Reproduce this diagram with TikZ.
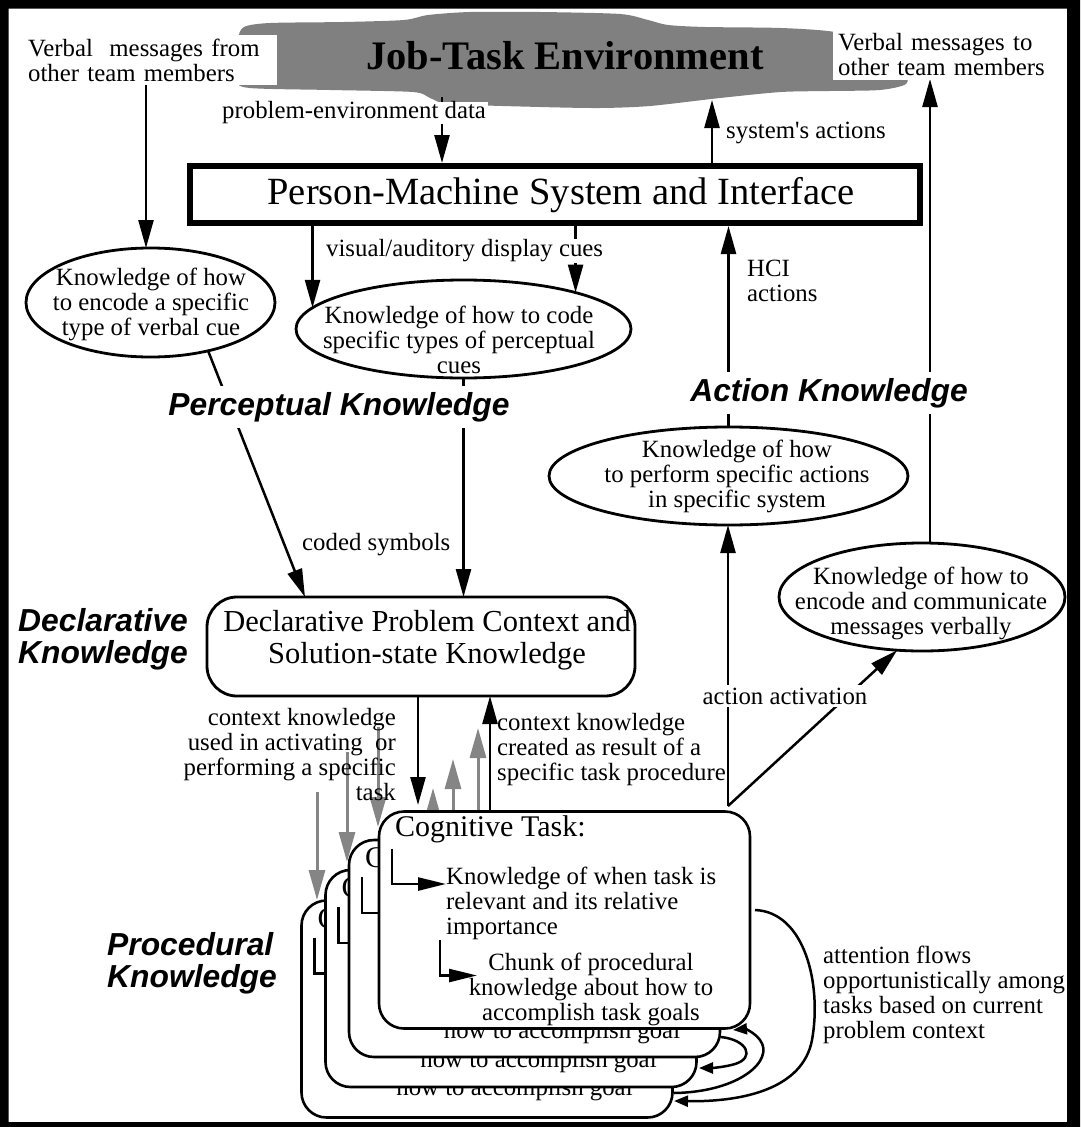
\documentclass[tikz,border=0pt]{standalone}
\usepackage{fontspec}
\setmainfont{Liberation Serif}
\setsansfont{Liberation Sans}
\usetikzlibrary{shapes.geometric,arrows.meta,backgrounds}
\definecolor{cloudgray}{HTML}{808080}
\definecolor{arrgray}{HTML}{858585}
\begin{document}
\begin{tikzpicture}[x=1pt,y=-1pt,
  base/.style={font=\fontsize{24.8}{25}\selectfont, inner sep=0pt},
  lbl/.style={base, fill=white},
  bigl/.style={font=\fontsize{31.8}{32}\selectfont\sffamily\bfseries\itshape, inner sep=0pt},
  cog/.style={font=\fontsize{30}{32}\selectfont, inner sep=0pt, anchor=west},
  kell/.style={ellipse, draw, line width=2.8pt, fill=white, inner sep=0pt, outer sep=0pt},
  card/.style={draw, line width=2.6pt, fill=white, rounded corners=25pt, minimum width=371pt, minimum height=217pt, inner sep=0pt, outer sep=0pt},
  arr/.style={line width=2.5pt, -{Triangle[length=28pt,width=15pt]}},
  garr/.style={color=arrgray, line width=3pt, -{Triangle[length=30pt,width=16pt]}},
  brk/.style={line width=2.5pt, -{Triangle[length=28pt,width=13pt]}},
  loopa/.style={line width=2.5pt, -{Triangle[length=14pt,width=11pt]}},
]
\useasboundingbox (0,0) rectangle (1080,1127);

% ---------- main nodes ----------
\node[kell, minimum width=249pt, minimum height=109pt] (e1) at (150.5,302.5) {};
\node[base, align=center] (e1t) at (151,304) {Knowledge of how\\to encode a specific\\type of verbal cue};
\node[kell, minimum width=335pt, minimum height=98pt] (e2) at (463.5,329) {};
\node[base, align=center] (e2t) at (459,340) {Knowledge of how to code\\specific types of perceptual\\cues};
\node[kell, minimum width=359pt, minimum height=98pt] (e3) at (728.5,476) {};
\node[base, align=center] (e3t) at (737,476) {Knowledge of how\\to perform specific actions\\in specific system};
\node[kell, minimum width=286pt, minimum height=108pt] (e4) at (922,597) {};
\node[base, align=center] (e4t) at (921,603) {Knowledge of how to\\encode and communicate\\messages verbally};

\node[draw, line width=6pt, fill=white, minimum width=730pt, minimum height=57pt, inner sep=0pt, outer sep=3pt] (pm) at (555,194.5) {};
\node[font=\fontsize{38.5}{40}\selectfont, inner sep=0pt] (pmt) at (561,195) {Person-Machine System and Interface};

\node[draw, line width=2.8pt, fill=white, rounded corners=30pt, minimum width=428pt, minimum height=99pt, inner sep=0pt, outer sep=0pt] (decl) at (421,646.5) {};
\node[font=\fontsize{30.5}{32}\selectfont, inner sep=0pt, align=center] (declt) at (427,640) {Declarative Problem Context and\\Solution-state Knowledge};

% ---------- cognitive task cards ----------
\node[card] (c4) at (487,1009) {};
\node[cog] (c4c) at ([shift={(16,18)}]c4.north west) {C};
\draw[brk] ([shift={(13,37)}]c4.north west) |- ([shift={(68,73)}]c4.north west);
\node[base] (c4g) at ([shift={(213,189)}]c4.north west) {how to accomplish goal};

\node[card] (c3) at (511,978.5) {};
\node[cog] (c3c) at ([shift={(16,18)}]c3.north west) {C};
\draw[brk] ([shift={(13,37)}]c3.north west) |- ([shift={(68,73)}]c3.north west);
\node[base] (c3g) at ([shift={(213,192)}]c3.north west) {how to accomplish goal};

\node[card] (c2) at (534.5,948.5) {};
\node[cog] (c2c) at ([shift={(16,18)}]c2.north west) {C};
\draw[brk] ([shift={(13,37)}]c2.north west) |- ([shift={(68,73)}]c2.north west);
\node[base] (c2g) at ([shift={(213,193)}]c2.north west) {how to accomplish goal};

\node[card] (c1) at (564.5,920) {};
\node[cog] (c1c) at ([shift={(16,18)}]c1.north west) {Cognitive Task:};
\node[base, align=left, anchor=west] (kw) at (446,903) {Knowledge of when task is\\relevant and its relative\\importance};
\draw[brk] ([shift={(13,37)}]c1.north west) |- (kw.west |- 0,884);
\node[base, align=center] (chunk) at (591,989) {Chunk of procedural\\knowledge about how to\\accomplish task goals};
\draw[brk] ([shift={(61,128)}]c1.north west) |- ([shift={(98,164)}]c1.north west);

% ---------- coordinates ----------
\coordinate (pedsrc) at (442,97);
\coordinate (sadst) at (712,100);
\coordinate (vfsrc) at (146,84);
\coordinate (vtdst) at (930,79);
\coordinate (x305) at (305,0);
\coordinate (bdx) at (418,805);
\coordinate (bux) at (490,0);
\coordinate (aa) at (728,806);
\coordinate (gAs) at (317,792);
\coordinate (gAe) at (317,900);
\coordinate (gBs) at (347,752);
\coordinate (gBe) at (347,862);
\coordinate (gCs) at (378,727);
\coordinate (gCe) at (378,827);
\coordinate (gDe) at (433,788);
\coordinate (gEe) at (453,759);
\coordinate (gFe) at (478,728);
\coordinate (lAs) at (755,910);
\coordinate (lAe) at (674,1101);
\coordinate (lBs) at (674,1093);
\coordinate (lBe) at (733,1030);
\coordinate (lCs) at (721,1037);
\coordinate (lCe) at (699,1068);

% ---------- background: cloud and grey arrows ----------
\begin{pgfonlayer}{background}
\fill[cloudgray] plot[smooth cycle, tension=0.45] coordinates {
 (238,40) (244,27) (270,23) (344,22) (404,20) (428,15) (470,12) (540,12)
 (620,14) (648,20) (668,25) (705,27) (781,28) (835,32) (880,45) (905,70)
 (906,84) (880,90) (830,91) (781,92) (720,98) (650,106) (600,108) (540,107)
 (450,104) (430,98) (413,92) (330,90) (250,88) (237,80)};
\draw[garr] (gAs) -- (gAe);
\draw[garr] (gBs) -- (gBe);
\draw[garr] (gCs) -- (gCe);
\draw[garr] (c2.north -| gDe) -- (gDe);
\draw[garr] (c3.north -| gEe) -- (gEe);
\draw[garr] (c4.north -| gFe) -- (gFe);
\end{pgfonlayer}

\node[font=\fontsize{40.5}{42}\selectfont\bfseries, inner sep=0pt] (env) at (565,56) {Job-Task Environment};

% ---------- connectors ----------
\draw[arr] (pedsrc) -- (pedsrc |- pm.north);
\draw[arr] (pm.north -| sadst) -- (sadst);
\draw[arr] (vfsrc) -- (vfsrc |- e1.north);
\draw[arr] (vtdst |- e4.north) -- (vtdst);
\draw[arr] (e2.172 |- pm.south) -- (e2.172);
\draw[arr] (e2.18 |- pm.south) -- (e2.18);
\draw[arr] (e3.north) -- (e3.north |- pm.south);
\draw[arr] (e1.320) -- (x305 |- decl.north);
\draw[arr] (e2.south) -- (e2.south |- decl.north);
\draw[arr] (decl.south -| bdx) -- (bdx);
\draw[arr] (c1.north -| bux) -- (bux |- decl.south);
\draw[arr] (aa) -- (aa |- e3.south);
\draw[arr] (aa) -- (e4.245);

% attention loops
\draw[loopa] (lAs) .. controls (805,912) and (822,985) .. (812,1040) .. controls (803,1088) and (745,1102) .. (lAe);
\draw[loopa] (lBs) .. controls (740,1092) and (775,1060) .. (760,1040) .. controls (754,1032) and (745,1029) .. (lBe);
\draw[loopa] (lCs) .. controls (748,1040) and (755,1058) .. (735,1064) .. controls (725,1067) and (712,1068) .. (lCe);

% ---------- labels ----------
\node[lbl, align=left, anchor=west, minimum height=50pt, text width=249pt] (vf) at (28,60) {Verbal~ messages from\\other team members};
\node[lbl, align=left, anchor=west, minimum height=50pt, inner xsep=5pt, text width=212pt] (vt) at (833,55) {Verbal messages to\\other team members};
\node[lbl, anchor=west, inner xsep=2pt] (ped) at (220,113) {problem-environment data};
\node[base, anchor=west] (sa) at (726,133) {system\textquotesingle s actions};
\node[lbl, anchor=west, inner sep=1pt] (vis) at (325,251) {visual/auditory display cues};
\node[base, anchor=west, align=left] (hci) at (747,281) {HCI\\actions};
\node[bigl, fill=white, inner xsep=4pt, inner ysep=6pt] (pk) at (339,407) {Perceptual Knowledge};
\node[bigl, fill=white, inner xsep=4pt, inner ysep=6pt] (ak) at (829,393) {Action Knowledge};
\node[base, anchor=west] (cs) at (302,545) {coded symbols};
\node[bigl, anchor=west, align=left] (dk) at (18,639) {Declarative\\Knowledge};
\node[bigl, anchor=west, align=left] (prk) at (107,963) {Procedural\\Knowledge};
\node[base, anchor=east, align=right] (cu) at (396,755) {context knowledge\\used in activating~ or\\performing a specific\\task};
\node[base, anchor=west, align=left] (cc) at (497,750) {context knowledge\\created as result of a\\specific task procedure};
\node[lbl, inner xsep=2pt, inner ysep=2.5pt] (aact) at (785,696) {action activation};
\node[base, anchor=west, align=left] (att) at (823,995) {attention flows\\opportunistically among\\tasks based on current\\problem context};

% ---------- frame ----------
\fill[even odd rule] (0,0) rectangle (1080,1127) (8.5,8.5) rectangle (1067,1122);
\end{tikzpicture}
\end{document}
